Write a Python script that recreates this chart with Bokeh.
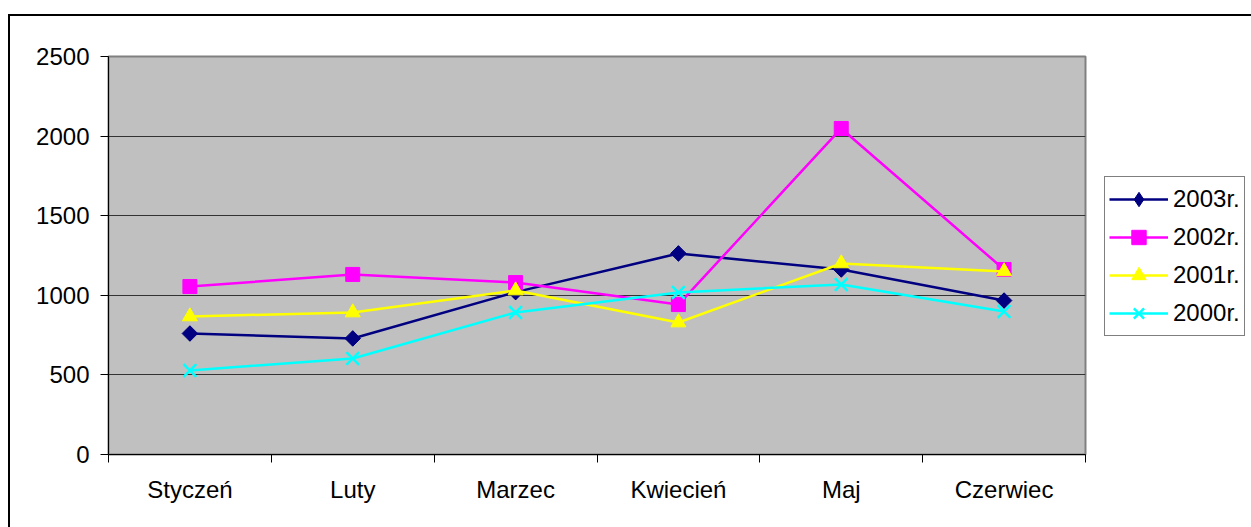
import math
from bokeh.plotting import figure
from bokeh.models import Legend, LegendItem, FixedTicker, Range1d, ColumnDataSource
from bokeh.embed import file_html
from bokeh.resources import INLINE

months = ["Styczeń", "Luty", "Marzec", "Kwiecień", "Maj", "Czerwiec"]
y2003 = [760, 729, 1020, 1263, 1162, 967]
y2002 = [1055, 1131, 1080, 942, 2048, 1162]
y2001 = [867, 892, 1030, 829, 1200, 1150]
y2000 = [528, 603, 892, 1018, 1068, 898]
series_names = ["2003r.", "2002r.", "2001r.", "2000r."]
y_ticks = [0, 500, 1000, 1500, 2000, 2500]

FONT = "Liberation Sans"

x_pos = [i + 0.5 for i in range(len(months))]
src = ColumnDataSource(dict(x=x_pos, y2003=y2003, y2002=y2002, y2001=y2001, y2000=y2000))

p = figure(width=1241, height=511, frame_width=977, frame_height=398,
           output_backend="svg", toolbar_location=None,
           x_range=Range1d(0, len(months)), y_range=Range1d(0, 2500),
           min_border_left=98, min_border_right=166, min_border_top=40, min_border_bottom=73)
p.margin = (14, 0, 0, 8)
p.styles = {"border-top": "2px solid black", "border-left": "2px solid black"}

p.background_fill_color = "#C0C0C0"
p.border_fill_color = "white"
p.outline_line_color = "#808080"
p.outline_line_width = 2

# axes
p.xaxis.ticker = FixedTicker(ticks=x_pos, minor_ticks=list(range(len(months) + 1)))
p.xaxis.major_label_overrides = {x: m for x, m in zip(x_pos, months)}
p.xaxis.major_tick_out = 0
p.xaxis.major_tick_in = 0
p.xaxis.minor_tick_out = 8
p.xaxis.minor_tick_in = 0
p.xaxis.minor_tick_line_color = "black"
p.xaxis.major_label_standoff = 13

p.yaxis.ticker = FixedTicker(ticks=y_ticks)
p.yaxis.major_tick_out = 8
p.yaxis.major_tick_in = 0
p.yaxis.minor_tick_line_color = None
p.yaxis.major_label_standoff = 11

for ax in (p.xaxis, p.yaxis):
    ax.axis_line_color = "black"
    ax.axis_line_width = 1
    ax.major_tick_line_color = "black"
    ax.major_label_text_font = FONT
    ax.major_label_text_font_size = "24px"
    ax.major_label_text_color = "black"

p.xgrid.grid_line_color = None
p.ygrid.ticker = FixedTicker(ticks=y_ticks)
p.ygrid.grid_line_color = "#333333"
p.ygrid.grid_line_width = 1

colors = ["#000080", "#FF00FF", "#FFFF00", "#00FFFF"]
cols = ["y2003", "y2002", "y2001", "y2000"]
markers = ["diamond", "square", "triangle", "x"]
sizes = [15, 14, 15, 18]

items = []
for name, col, c, m, s in zip(series_names, cols, colors, markers, sizes):
    l = p.line("x", col, source=src, line_color=c, line_width=2.5)
    if m == "x":
        sc = p.scatter("x", col, source=src, marker=m, size=s, line_color=c, line_width=2.5)
    else:
        sc = p.scatter("x", col, source=src, marker=m, size=s, fill_color=c, line_color=c)
    if m == "diamond":
        # Excel-style wide diamond: a square turned by 45 degrees over the same points
        p.scatter("x", col, source=src, marker="square", size=11, angle=math.pi / 4,
                  fill_color=c, line_color=c)
    items.append(LegendItem(label=name, renderers=[l, sc]))

legend = Legend(items=items, location=(19, 118))
legend.label_text_font = FONT
legend.label_text_font_size = "24px"
legend.label_text_color = "black"
legend.glyph_width = 59
legend.glyph_height = 36
legend.label_standoff = 5
legend.spacing = 2
legend.padding = 4
legend.margin = 0
legend.border_line_color = "black"
legend.border_line_width = 1
legend.background_fill_color = "white"
legend.background_fill_alpha = 1
p.add_layout(legend, "right")

open("out.html", "w").write(file_html(p, INLINE))
